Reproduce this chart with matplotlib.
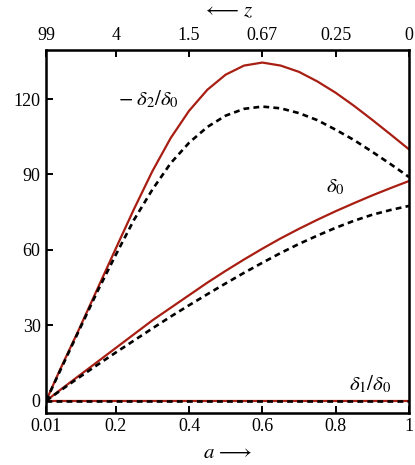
"""Growth of delta_0 and the ratios delta_1/delta_0, -delta_2/delta_0 versus scale factor."""

import matplotlib

matplotlib.use("Agg")
import matplotlib.pyplot as plt

plt.rcParams["font.family"] = ["Liberation Serif", "DejaVu Serif"]
plt.rcParams["mathtext.fontset"] = "stix"

# scale factor a
a = [0.01, 0.05, 0.1, 0.15, 0.2, 0.25, 0.3, 0.35, 0.4, 0.45, 0.5,
     0.55, 0.6, 0.65, 0.7, 0.75, 0.8, 0.85, 0.9, 0.95, 1.0]

# -delta_2/delta_0
ratio2_full = [0, 13, 28.5, 44.5, 60.5, 76.3, 91.3, 104.5, 115.3, 123.7, 129.7,
               133.3, 134.5, 133.3, 130.8, 127, 122.5, 117.3, 111.7, 105.9, 100]
ratio2_approx = [0, 12.5, 28, 43.5, 58, 72, 84, 94.5, 102.6, 108.9, 113.4,
                 116.1, 117, 116.3, 114.4, 111.6, 107.8, 103.7, 99, 94.1, 89]

# delta_0
delta0_full = [0, 4.5, 10, 15.5, 21, 26.5, 32, 37, 42, 47, 51.7,
               56.2, 60.5, 64.6, 68.4, 72, 75.4, 78.6, 81.7, 84.6, 87.4]
delta0_approx = [0, 4.2, 9.3, 14.3, 19.2, 24, 28.8, 33.5, 38, 42.4, 46.7,
                 50.9, 54.9, 58.8, 62.4, 65.7, 68.8, 71.6, 74, 75.9, 77.5]

# delta_1/delta_0
ratio1_full = [0] * len(a)
ratio1_approx = [0] * len(a)

a_ticks = [0.01, 0.2, 0.4, 0.6, 0.8, 1.0]
a_labels = ["0.01", "0.2", "0.4", "0.6", "0.8", "1"]
z_labels = ["99", "4", "1.5", "0.67", "0.25", "0"]
y_ticks = [0, 30, 60, 90, 120]

RED = "#a81e12"

fig = plt.figure(figsize=(4.15, 4.65), dpi=100)
ax = fig.add_axes([0.111, 0.112, 0.8745, 0.7805])

for full, approx in [(ratio2_full, ratio2_approx),
                     (delta0_full, delta0_approx),
                     (ratio1_full, ratio1_approx)]:
    ax.plot(a, full, color=RED, lw=1.6, zorder=2)
    ax.plot(a, approx, color="black", lw=1.9, linestyle=(0, (2.2, 1.6)), zorder=3)

ax.set_xlim(0.01, 1.0)
ax.set_ylim(-4.8, 139.5)
ax.set_xticks(a_ticks, a_labels)
ax.set_yticks(y_ticks)
ax.tick_params(direction="in", length=5, width=1.4, labelsize=13, pad=4)
ax.tick_params(axis="y", right=False)
for spine in ax.spines.values():
    spine.set_linewidth(1.8)

top = ax.twiny()
top.set_xlim(ax.get_xlim())
top.set_xticks(a_ticks, z_labels)
top.tick_params(direction="in", length=5, width=1.4, labelsize=13, pad=4)

ax.set_xlabel(r"$a\,\longrightarrow$", fontsize=15, labelpad=6)
top.set_xlabel(r"$\longleftarrow\,z$", fontsize=15, labelpad=8)

ax.text(0.29, 120, r"$-\;\delta_2/\delta_0$", fontsize=15, ha="center", va="center")
ax.text(0.80, 85, r"$\delta_0$", fontsize=15, ha="center", va="center")
ax.text(0.895, 6.5, r"$\delta_1/\delta_0$", fontsize=15, ha="center", va="center")

fig.savefig("out.png", dpi=100)
